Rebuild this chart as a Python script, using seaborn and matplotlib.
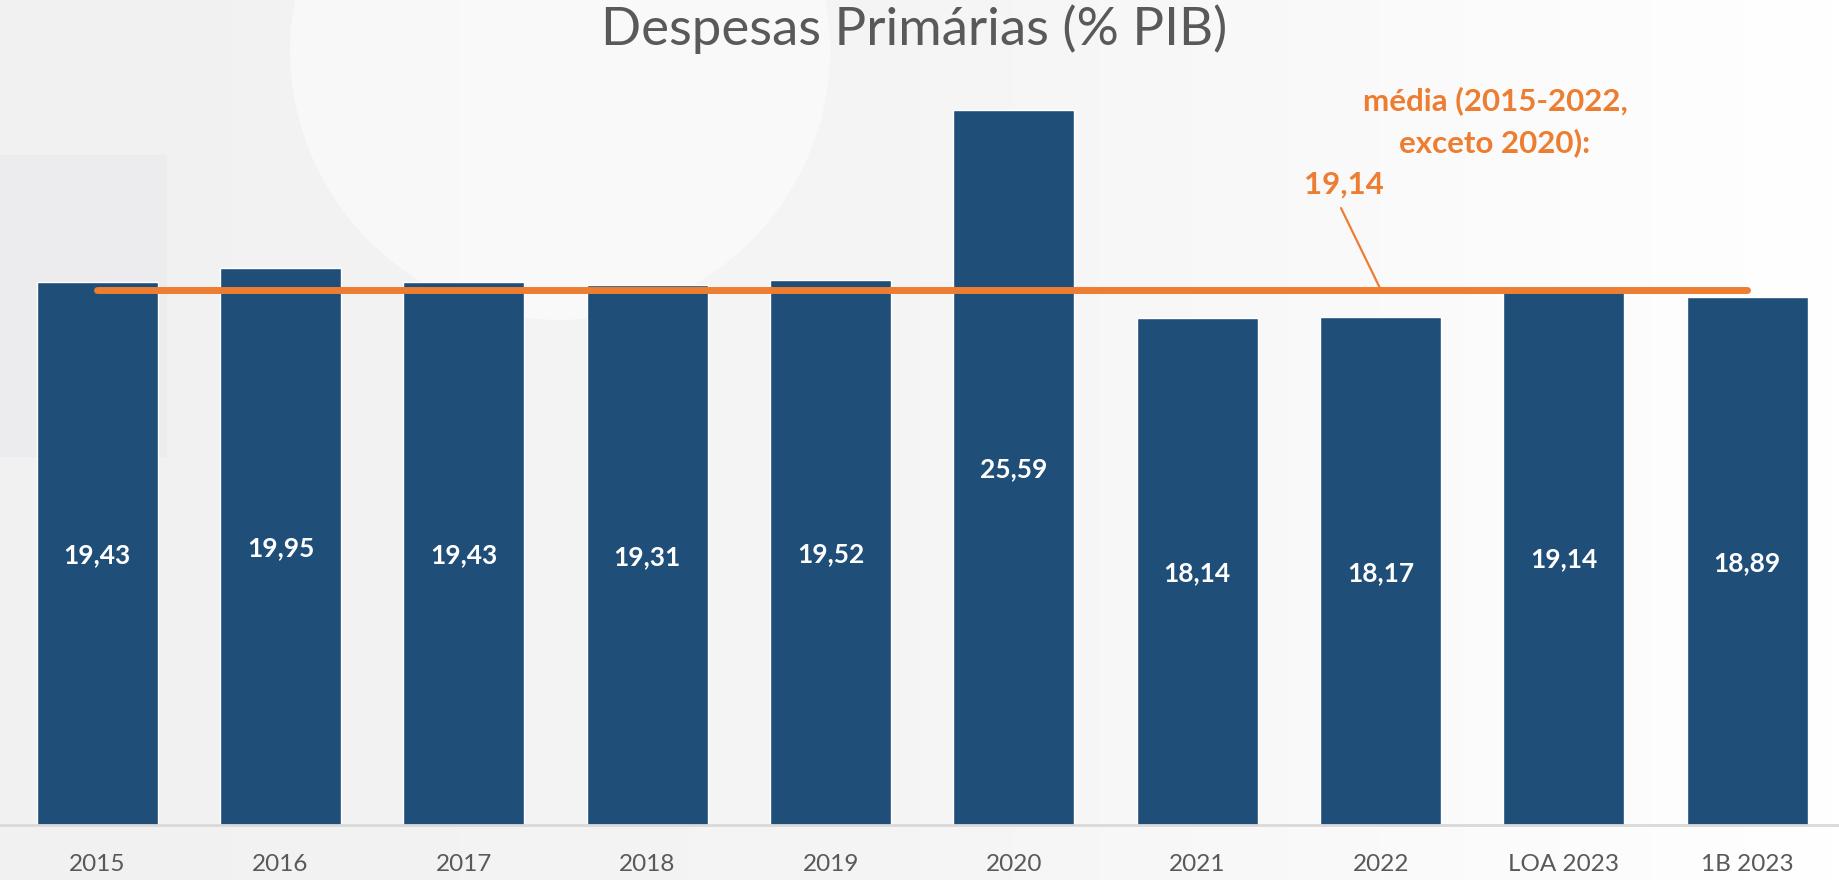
import numpy as np
import pandas as pd
import matplotlib.pyplot as plt
import seaborn as sns
from matplotlib.colors import LinearSegmentedColormap
from matplotlib.patches import Rectangle, Ellipse

# dados
anos = ['2015', '2016', '2017', '2018', '2019', '2020', '2021', '2022', 'LOA 2023', '1B 2023']
despesas = [19.43, 19.95, 19.43, 19.31, 19.52, 25.59, 18.14, 18.17, 19.14, 18.89]
media = 19.14

df = pd.DataFrame({'ano': anos, 'despesa': despesas})

azul = '#1F4E79'
laranja = '#ED7D31'
cinza = '#595959'

sns.set_theme(style='white')
plt.rcParams['font.family'] = ['Lato', 'DejaVu Sans']

fig = plt.figure(figsize=(18.39, 8.80), dpi=100)

# --- fundo claro (degradê + formas suaves) ---
bg = fig.add_axes([0, 0, 1, 1], zorder=-10)
grad = np.linspace(0, 1, 256).reshape(1, -1)
cmap_bg = LinearSegmentedColormap.from_list('bg', ['#f1f1f2', '#f5f5f6', '#ffffff'])
bg.imshow(grad, aspect='auto', cmap=cmap_bg, extent=[0, 1, 0, 1])
bg.add_patch(Rectangle((0, 1 - 457 / 880), 167 / 1839, 302 / 880,
                       color='#eaeaec', alpha=0.6, lw=0))
bg.add_patch(Ellipse((560 / 1839, 1 - 50 / 880), 540 / 1839, 540 / 880,
                     color='white', alpha=0.5, lw=0))
bg.set_xlim(0, 1)
bg.set_ylim(0, 1)
bg.axis('off')

ax = fig.add_axes([0.0, 0.0625, 1.0, 0.889])
ax.set_facecolor('none')

sns.barplot(data=df, x='ano', y='despesa', color=azul, width=0.66,
            saturation=1, ax=ax)

# linha da média
ax.plot([0, len(anos) - 1], [media, media], color=laranja, lw=5,
        solid_capstyle='round', zorder=5)

# rótulos dentro das barras
for i, v in enumerate(despesas):
    ax.text(i, v / 2, f'{v:.2f}'.replace('.', ','), ha='center', va='center_baseline',
            color='white', fontsize=19, fontweight='bold')

ax.set_xlim(-0.53, 9.5)
ax.set_ylim(0, 28)
ax.set_xlabel('')
ax.set_ylabel('')
ax.set_yticks([])
for s in ['top', 'right', 'left']:
    ax.spines[s].set_visible(False)
ax.spines['bottom'].set_color('#d9d9d9')
ax.spines['bottom'].set_linewidth(2)
ax.tick_params(axis='x', length=0, pad=21, labelsize=17.5, labelcolor=cinza)

# anotação da média
ax.plot([6.784, 7.002], [22.08, media], color=laranja, lw=1.6, zorder=5)
ax.text(6.80, 23.01, '19,14', ha='center', va='center_baseline', color=laranja,
        fontsize=22.5, fontweight='bold')
ax.text(7.624, 26.02, 'média (2015-2022,', ha='center', va='center_baseline',
        color=laranja, fontsize=22.5, fontweight='bold')
ax.text(7.624, 24.52, 'exceto 2020):', ha='center', va='center_baseline',
        color=laranja, fontsize=22.5, fontweight='bold')

fig.text(0.497, 0.967, 'Despesas Primárias (% PIB)', ha='center', va='center',
         color=cinza, fontsize=38)

fig.savefig('out.png', dpi=100)
